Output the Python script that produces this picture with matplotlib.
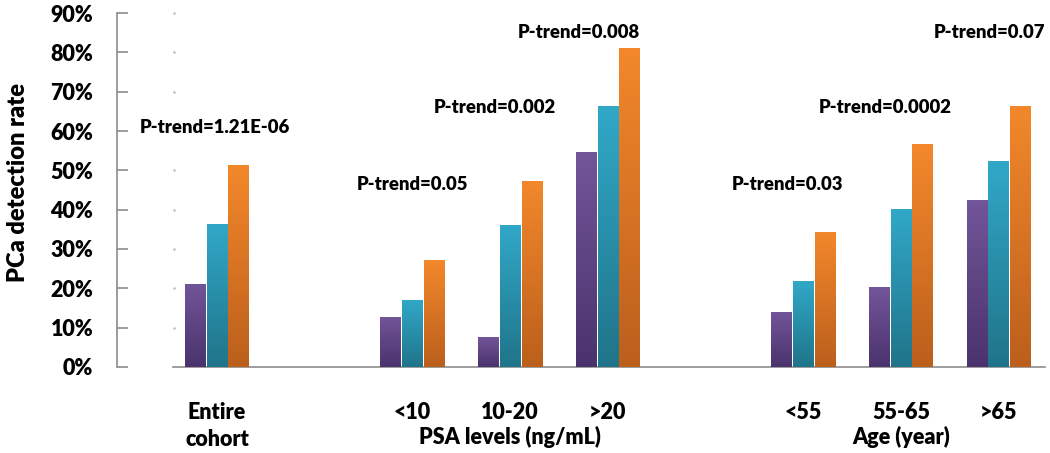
import numpy as np
import matplotlib
matplotlib.use("Agg")
import matplotlib.pyplot as plt
from matplotlib.colors import LinearSegmentedColormap
import matplotlib.transforms as mtransforms

plt.rcParams['font.family'] = ['Lato', 'DejaVu Sans']
plt.rcParams['font.weight'] = 'heavy'

# data (percent)
categories = ['Entire\ncohort', '<10', '10-20', '>20', '<55', '55-65', '>65']
positions = [0, 2, 3, 4, 6, 7, 8]
group_names = ['PSA levels (ng/mL)', 'Age (year)']
series1 = [21.2, 12.8, 7.6, 54.8, 14.1, 20.3, 42.5]
series2 = [36.3, 17.0, 36.0, 66.3, 21.8, 40.2, 52.4]
series3 = [51.3, 27.3, 47.3, 81.2, 34.4, 56.6, 66.3]
p_trend = ['P-trend=1.21E-06', 'P-trend=0.05', 'P-trend=0.002', 'P-trend=0.008',
           'P-trend=0.03', 'P-trend=0.0002', 'P-trend=0.07']
yticks = [0, 10, 20, 30, 40, 50, 60, 70, 80, 90]

# where the p-trend labels sit
p_x = [-0.02, 2.0, 2.84, 3.7, 5.84, 6.84, 7.91]
p_y = [60.8, 46.3, 65.9, 85.2, 46.3, 65.9, 85.2]

# gradient colours (top, bottom)
grads = [('#735599', '#4a336d'), ('#31a8c8', '#207489'), ('#f3882b', '#bb5f1c')]

fig = plt.figure(figsize=(10.5, 4.53), dpi=100)
ax = fig.add_axes([0.1114, 0.19, 0.884, 0.781])

x = np.array(positions, dtype=float)
w = 0.212
offsets = [-0.222, 0.0, 0.222]
grad = np.linspace(1, 0, 256).reshape(-1, 1)

for vals, off, (top, bot) in zip([series1, series2, series3], offsets, grads):
    bars = ax.bar(x + off, vals, width=w, color=top, edgecolor='none', zorder=2)
    cmap = LinearSegmentedColormap.from_list('g', [bot, top])
    for b in bars:
        x0, y0 = b.get_x(), b.get_y()
        im = ax.imshow(grad, cmap=cmap, aspect='auto', zorder=3,
                       extent=[x0, x0 + b.get_width(), y0, y0 + b.get_height()])
        im.set_clip_path(b)

ax.set_xlim(-1.024, 8.475)
ax.set_ylim(0, 90)

for s in ['top', 'right']:
    ax.spines[s].set_visible(False)
ax.spines['left'].set_color('#8c8c8c')
ax.spines['bottom'].set_color('#8c8c8c')
ax.spines['left'].set_linewidth(1.2)
ax.spines['bottom'].set_linewidth(1.2)
ax.spines['bottom'].set_bounds(-0.455, 8.475)

ax.set_yticks(yticks)
ax.set_yticklabels(['%d%%' % v for v in yticks], fontsize=15.5, fontweight='heavy')
ax.tick_params(axis='y', direction='in', length=8, width=1.2, color='#8c8c8c', pad=17)

ax.set_xticks(positions)
ax.set_xticklabels(categories, fontsize=15.5, fontweight='heavy', linespacing=1.4,
                   va='top')
ax.tick_params(axis='x', length=0, pad=25)

# faint grid dots
ax.scatter(np.full(len(yticks) - 1, -0.44), yticks[1:], s=0.6, color='#bbbbbb',
           zorder=1, clip_on=False)

trans = mtransforms.blended_transform_factory(ax.transData, ax.transAxes)
ax.text(positions[2], -0.198, group_names[0], transform=trans, ha='center',
        va='center', fontsize=15.5, fontweight='heavy')
ax.text(positions[5], -0.198, group_names[1], transform=trans, ha='center',
        va='center', fontsize=15.5, fontweight='heavy')

for px, py, t in zip(p_x, p_y, p_trend):
    ax.text(px, py, t, ha='center', va='center', fontsize=13.3, fontweight='heavy')

fig.text(18 / 1050, 1 - 182 / 453, 'PCa detection rate', rotation=90,
         ha='center', va='center', fontsize=17, fontweight='heavy')

fig.savefig('out.png', dpi=100)
